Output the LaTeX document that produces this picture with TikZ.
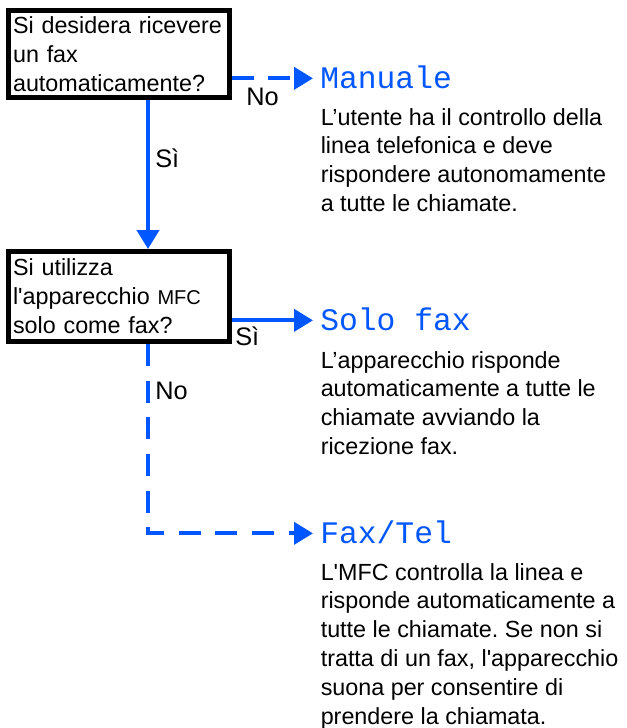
\documentclass[tikz,border=0pt]{standalone}
\usepackage{fontspec}
\setmainfont{Liberation Sans}
\setmonofont{Liberation Mono}
\usepackage{tikz}
\usetikzlibrary{arrows.meta}
\definecolor{faxblue}{RGB}{0,87,255}
\frenchspacing

\begin{document}
\begin{tikzpicture}[
	x=0.75pt, y=-0.75pt,
	every node/.style={inner sep=0pt},
	question/.style={draw=black, line width=3.75pt, anchor=north west,
		minimum width=165.5pt, inner xsep=3.4pt, text width=158.7pt,
		align=left, font=\fontsize{17.5}{21.75}\selectfont},
	answer/.style={anchor=base west, font=\fontsize{19}{22}\selectfont},
	mode/.style={anchor=base west, inner xsep=5.25pt, text=faxblue,
		text height=17.5pt, text depth=3pt,
		font=\ttfamily\fontsize{23.5}{28}\selectfont},
	info/.style={anchor=north west, align=left,
		font=\fontsize{17.5}{21.6}\selectfont},
	yesline/.style={draw=faxblue, line width=3pt,
		-{Triangle[length=14.25pt, width=16.5pt]}},
	noline/.style={yesline, dash pattern=on 16.5pt off 11pt}
	]
	
	\useasboundingbox (0,0) rectangle (626,728);
	
	% Questions
	\node[question, minimum height=65.25pt] (q1) at (6,8)
		{Si desidera ricevere\\un fax\\automaticamente?};
	\node[question, minimum height=67.5pt] (q2) at (6,249)
		{Si utilizza\\l\textquotesingle apparecchio {\fontsize{15}{16}\selectfont MFC}\\solo come fax?};
	
	% Receive modes
	\node[mode] (manuale) at (313,88) {Manuale};
	\node[mode] (solofax) at (313,330) {Solo fax};
	\node[mode] (faxtel) at (313,543) {Fax/Tel};
	
	\node[info] (manualeinfo) at (320.5,108)
		{L’utente ha il controllo della\\linea telefonica e deve\\rispondere autonomamente\\a tutte le chiamate.};
	\node[info] (solofaxinfo) at (320.5,351)
		{L’apparecchio risponde\\automaticamente a tutte le\\chiamate avviando la\\ricezione fax.};
	\node[info] (faxtelinfo) at (320.5,563)
		{L\textquotesingle MFC controlla la linea e\\risponde automaticamente a\\tutte le chiamate. Se non si\\tratta di un fax, l\textquotesingle apparecchio\\suona per consentire di\\prendere la chiamata.};
	
	% Connectors
	\coordinate (fork) at (148,0);
	\draw[noline] (manuale.west -| q1.east) -- (manuale.west);
	\draw[yesline] (q1.south -| fork) -- (q2.north -| fork);
	\draw[yesline] (solofax.west -| q2.east) -- (solofax.west);
	\draw[noline] (q2.south -| fork) -- (fork |- faxtel.west) -- (faxtel.west);
	
	\node[answer] (no1) at (246,105) {No};
	\node[answer] (si1) at (155,167) {Sì};
	\node[answer] (si2) at (235,345) {Sì};
	\node[answer] (no2) at (155,399) {No};
	
\end{tikzpicture}
\end{document}
